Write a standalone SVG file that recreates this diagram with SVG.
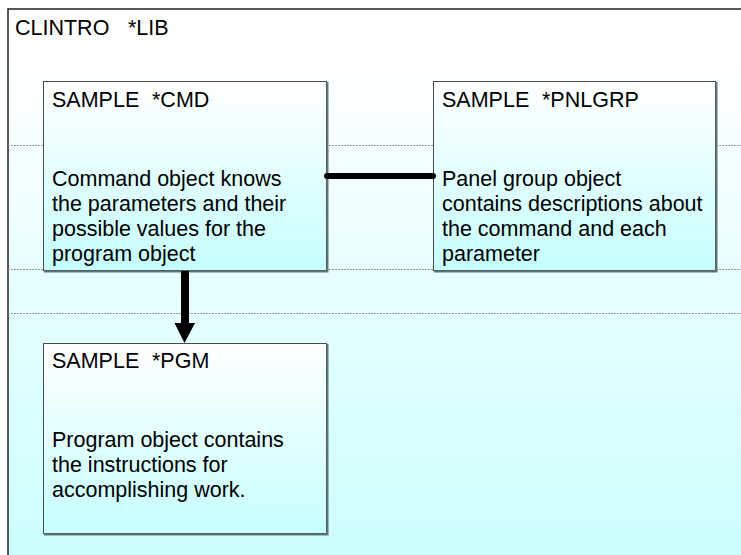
<svg xmlns="http://www.w3.org/2000/svg" width="741" height="555" viewBox="0 0 741 555">
<style>
text{font-family:"Liberation Sans",Arial,sans-serif;font-size:21.5px;fill:#000}
.box{fill:url(#boxg);stroke:#4a4a4a;stroke-width:1}
.shadow{fill:none;stroke:#5f7777;stroke-width:2}
.guide{stroke:#999;stroke-width:1;stroke-dasharray:2 1}
</style>
<defs>
<linearGradient id="bg" x1="0" y1="0" x2="0" y2="1">
<stop offset="0" stop-color="#ffffff"/>
<stop offset="0.08" stop-color="#ffffff"/>
<stop offset="1" stop-color="#ccffff"/>
</linearGradient>
<linearGradient id="boxg" x1="0" y1="0" x2="0" y2="1">
<stop offset="0" stop-color="#ffffff"/>
<stop offset="1" stop-color="#c6ffff"/>
</linearGradient>
</defs>
<g id="library">
<rect x="8" y="9" width="733" height="546" fill="url(#bg)"/>
<path d="M8 555 V9 H741" fill="none" stroke="#222" stroke-width="1.5"/>
<line class="guide" x1="8" y1="145.5" x2="741" y2="145.5"/>
<line class="guide" x1="8" y1="269.5" x2="741" y2="269.5"/>
<line class="guide" x1="8" y1="313.5" x2="741" y2="313.5"/>
<text x="15" y="35">CLINTRO<tspan x="128">*LIB</tspan></text>
</g>
<g id="cmd">
<rect class="box" x="43.5" y="81.5" width="283" height="189"/>
<path class="shadow" d="M327.5 82 V271.5 H44"/>
<text x="52" y="107">SAMPLE<tspan x="152">*CMD</tspan></text>
<text x="52" y="186">Command object knows</text>
<text x="52" y="211">the parameters and their</text>
<text x="52" y="236">possible values for the</text>
<text x="52" y="261">program object</text>
</g>
<g id="pnlgrp">
<rect class="box" x="433.5" y="81.5" width="282" height="189"/>
<path class="shadow" d="M716.5 82 V271.5 H434"/>
<text x="442" y="107">SAMPLE<tspan x="542">*PNLGRP</tspan></text>
<text x="442" y="186">Panel group object</text>
<text x="442" y="211">contains descriptions about</text>
<text x="442" y="236">the command and each</text>
<text x="442" y="261">parameter</text>
</g>
<g id="pgm">
<rect class="box" x="43.5" y="343.5" width="283" height="190"/>
<path class="shadow" d="M327.5 344 V534.5 H44"/>
<text x="52" y="368">SAMPLE<tspan x="152">*PGM</tspan></text>
<text x="52" y="447">Program object contains</text>
<text x="52" y="472">the instructions for</text>
<text x="52" y="497">accomplishing work.</text>
</g>
<g id="connectors">
<line x1="327" y1="176" x2="433" y2="176" stroke="#000" stroke-width="6" stroke-linecap="round"/>
<rect x="181" y="271" width="8" height="53" fill="#000"/>
<polygon points="174.5,323 195,323 184.5,343" fill="#000"/>
</g>
</svg>
